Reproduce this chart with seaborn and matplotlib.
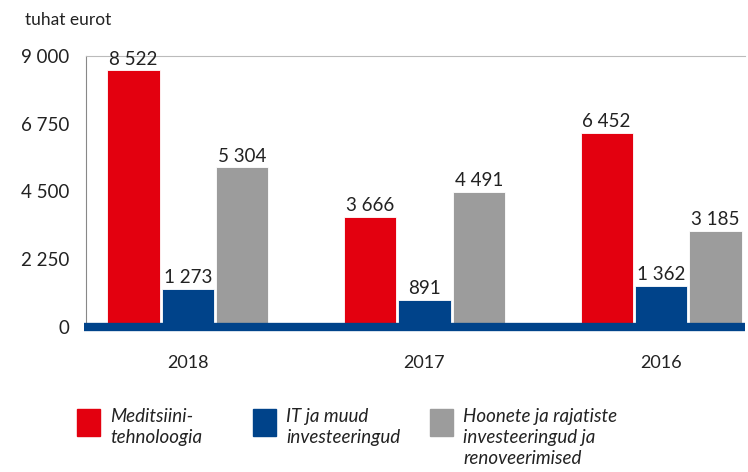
import pandas as pd
import matplotlib
matplotlib.use('Agg')
import matplotlib.pyplot as plt
from matplotlib.patches import Rectangle
import seaborn as sns

# data
years = ['2018', '2017', '2016']
categories = ['Meditsiini-\ntehnoloogia', 'IT ja muud\ninvesteeringud',
              'Hoonete ja rajatiste\ninvesteeringud ja\nrenoveerimised']
med_tech = [8522, 3666, 6452]
it_other = [1273, 891, 1362]
buildings = [5304, 4491, 3185]
yticks = [0, 2250, 4500, 6750, 9000]
colors = ['#E3000F', '#00438A', '#9C9C9C']

df = pd.DataFrame({
    'year': years * 3,
    'category': [c for c in categories for _ in years],
    'value': med_tech + it_other + buildings,
})


def fmt(v):
    return f'{int(v):,}'.replace(',', ' ')


sns.set_style('white')
plt.rcParams['font.family'] = ['Lato', 'DejaVu Sans']

fig = plt.figure(figsize=(7.48, 4.72), dpi=100)
ax = fig.add_axes([86 / 748, 1 - 327 / 472, (745 - 86) / 748, (327 - 56) / 472])

sns.barplot(data=df, x='year', y='value', hue='category', order=years,
            hue_order=categories, palette=colors, width=0.69, gap=0.04,
            saturation=1, edgecolor='white', linewidth=0.6, legend=False, ax=ax)

for cont in ax.containers:
    ax.bar_label(cont, labels=[fmt(v) for v in cont.datavalues], padding=2,
                 fontsize=13.5, color='#222222')

ax.set_ylim(0, 9000)
ax.set_xlim(-0.431, 2.355)
ax.set_yticks(yticks)
ax.set_yticklabels([fmt(v) for v in yticks], fontsize=13.5, color='#222222')
ax.tick_params(axis='y', length=0, pad=12)
ax.tick_params(axis='x', length=0, pad=20, labelsize=13, colors='#222222')
ax.set_xlabel('')
ax.set_ylabel('')

# frame: thin grey left / top lines, thick blue baseline
for s in ['right', 'bottom']:
    ax.spines[s].set_visible(False)
ax.spines['left'].set_color('#888888')
ax.spines['left'].set_linewidth(0.8)
ax.spines['top'].set_color('#BBBBBB')
ax.spines['top'].set_linewidth(0.8)
ax.axhline(0, xmin=-0.003, xmax=1, color='#00438A', linewidth=6,
           solid_capstyle='butt', clip_on=False, zorder=5)

fig.text(25 / 748, 1 - 20 / 472, 'tuhat eurot', fontsize=12.5, color='#222222', va='center')

# legend drawn by hand so the swatches sit at the first text line
leg_x = [77, 253, 430]
for x, c, lab in zip(leg_x, colors, categories):
    fig.add_artist(Rectangle((x / 748, 1 - 436 / 472), 23 / 748, 27 / 472,
                             transform=fig.transFigure, color=c))
    fig.text((x + 33) / 748, 1 - 408 / 472, lab, fontsize=13.5, style='italic',
             va='top', ha='left', linespacing=1.3, color='#222222')

fig.savefig('out.png', dpi=100)
